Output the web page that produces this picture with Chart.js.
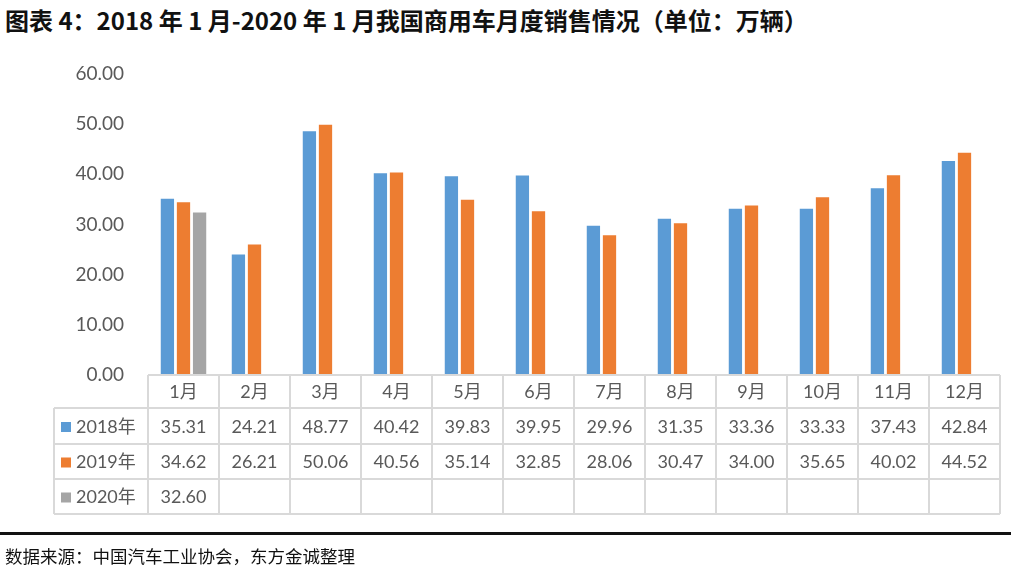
<!DOCTYPE html>
<html>
<head>
<meta charset="utf-8">
<script src="https://cdn.jsdelivr.net/npm/chart.js@4.4.1/dist/chart.umd.min.js"></script>
<style>
  body { margin: 0; background: #fff; }
  #wrap { position: relative; width: 1011px; height: 570px; overflow: hidden; }
  #title { position: absolute; left: 5px; top: 2px; font: bold 24px "Noto Sans CJK SC", sans-serif; color: #111; white-space: nowrap; }
  #rule { position: absolute; left: 0; top: 532px; width: 1011px; height: 3px; background: #111; }
  #source { position: absolute; left: 5px; top: 543px; font: 17.5px "Noto Sans CJK SC", sans-serif; color: #111; white-space: nowrap; }
  canvas { position: absolute; left: 0; top: 0; }
</style>
</head>
<body>
<div id="wrap">
  <div id="title">图表 4：2018 年 1 月-2020 年 1 月我国商用车月度销售情况（单位：万辆）</div>
  <canvas id="chart" width="1011" height="570"></canvas>
  <div id="rule"></div>
  <div id="source">数据来源：中国汽车工业协会，东方金诚整理</div>
</div>
<script>
const months = ['1月', '2月', '3月', '4月', '5月', '6月', '7月', '8月', '9月', '10月', '11月', '12月'];
const seriesNames = ['2018年', '2019年', '2020年'];
const sales2018 = [35.31, 24.21, 48.77, 40.42, 39.83, 39.95, 29.96, 31.35, 33.36, 33.33, 37.43, 42.84];
const sales2019 = [34.62, 26.21, 50.06, 40.56, 35.14, 32.85, 28.06, 30.47, 34.00, 35.65, 40.02, 44.52];
const sales2020 = [32.60, null, null, null, null, null, null, null, null, null, null, null];
const colors = ['#5b9bd5', '#ed7d31', '#a5a5a5'];

const textColor = '#595959';
const lineColor = '#d9d9d9';
const font = '18px Lato, "Noto Sans CJK SC", sans-serif';

// data table under the plot, drawn from the same arrays
const tablePlugin = {
    id: 'dataTable',
    afterDraw(chart) {
        const ctx = chart.ctx;
        const area = chart.chartArea;
        const x = chart.scales.x;
        const colW = (area.right - area.left) / months.length;
        const top = area.bottom;
        const rowY = [top, top + 33, top + 69, top + 104, top + 139];
        const legendLeft = 54;
        const all = [sales2018, sales2019, sales2020];

        ctx.save();
        ctx.strokeStyle = lineColor;
        ctx.lineWidth = 2;
        ctx.beginPath();
        ctx.moveTo(area.left, rowY[0]);
        ctx.lineTo(area.right, rowY[0]);
        for (let r = 1; r < rowY.length; r++) {
            ctx.moveTo(legendLeft, rowY[r]);
            ctx.lineTo(area.right, rowY[r]);
        }
        ctx.moveTo(legendLeft, rowY[1]);
        ctx.lineTo(legendLeft, rowY[4]);
        for (let i = 0; i <= months.length; i++) {
            const cx = area.left + i * colW;
            ctx.moveTo(cx, rowY[0]);
            ctx.lineTo(cx, rowY[4]);
        }
        ctx.stroke();

        ctx.font = font;
        ctx.fillStyle = textColor;
        ctx.textAlign = 'center';
        ctx.textBaseline = 'middle';
        months.forEach((m, i) => {
            ctx.fillText(m, x.getPixelForValue(i), (rowY[0] + rowY[1]) / 2 + 1);
        });

        all.forEach((vals, r) => {
            const cy = (rowY[r + 1] + rowY[r + 2]) / 2 + 1;
            ctx.fillStyle = colors[r];
            ctx.fillRect(61, cy - 5, 10, 10);
            ctx.fillStyle = textColor;
            ctx.textAlign = 'left';
            ctx.fillText(seriesNames[r], 76, cy);
            ctx.textAlign = 'center';
            vals.forEach((v, i) => {
                if (v !== null) ctx.fillText(v.toFixed(2), x.getPixelForValue(i), cy);
            });
        });
        ctx.restore();
    }
};

new Chart(document.getElementById('chart'), {
    type: 'bar',
    data: {
        labels: months,
        datasets: [sales2018, sales2019, sales2020].map((d, i) => ({
            label: seriesNames[i],
            data: d,
            backgroundColor: colors[i],
            borderColor: '#ffffff',
            borderWidth: 1,
            barPercentage: 0.95,
            categoryPercentage: 0.68
        }))
    },
    options: {
        responsive: false,
        animation: false,
        devicePixelRatio: 1,
        layout: { padding: { left: 0, right: 11, top: 74, bottom: 195 } },
        plugins: { legend: { display: false }, tooltip: { enabled: false } },
        scales: {
            x: { display: false },
            y: {
                min: 0, max: 60,
                afterFit: s => { s.width = 148; },
                grid: { display: false, drawTicks: false },
                border: { display: false },
                ticks: {
                    stepSize: 10,
                    padding: 24,
                    color: textColor,
                    font: { family: 'Lato, sans-serif', size: 19 },
                    callback: v => v.toFixed(2)
                }
            }
        }
    },
    plugins: [tablePlugin]
});
</script>
</body>
</html>
